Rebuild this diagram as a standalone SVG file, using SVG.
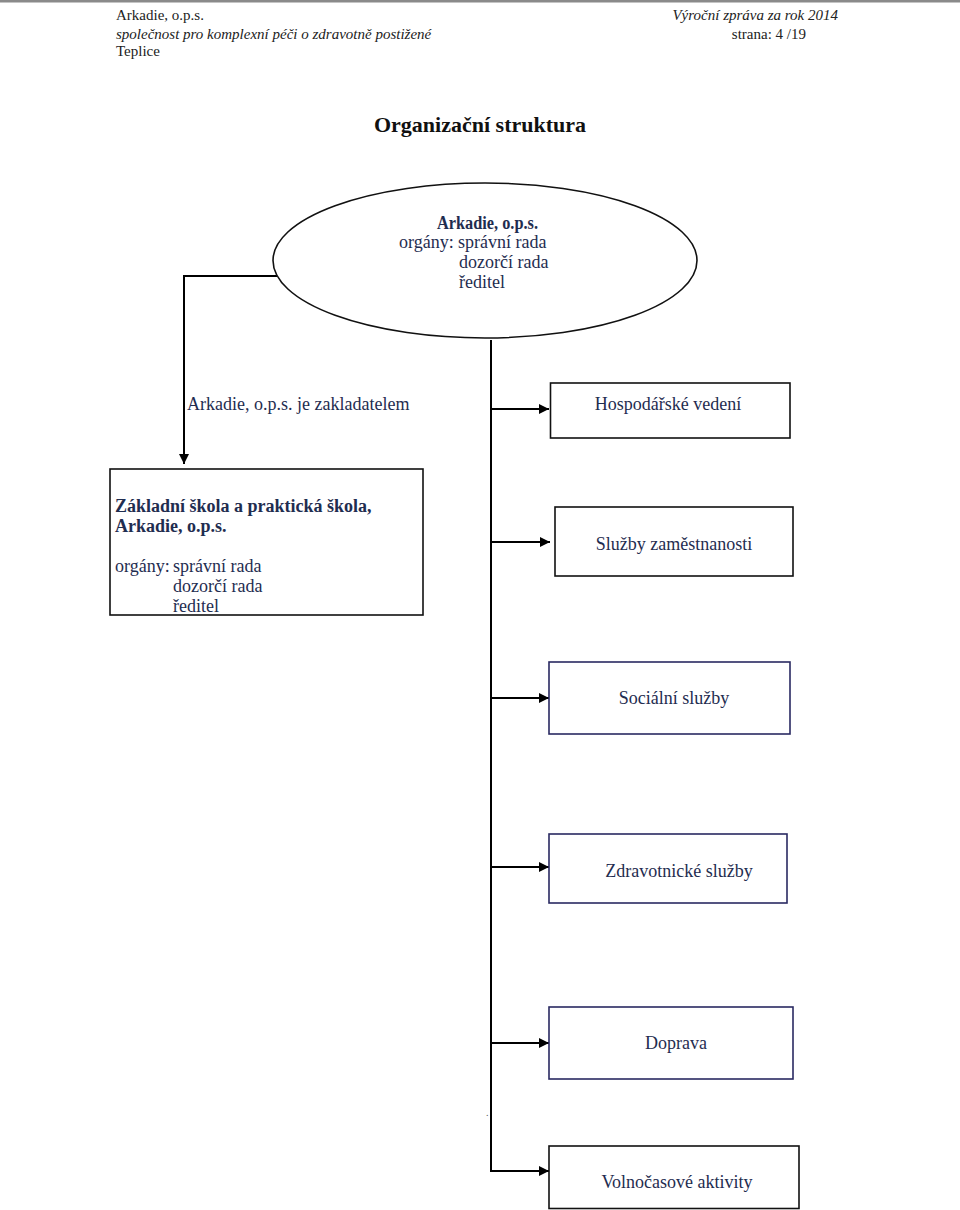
<svg xmlns="http://www.w3.org/2000/svg" width="960" height="1210" viewBox="0 0 960 1210">
<style>
.hdr{font-family:"Liberation Serif","Times New Roman",serif;font-size:15px;fill:#222}
.it{font-style:italic}
.t{font-family:"Liberation Serif","Times New Roman",serif;font-size:18px;fill:#1f2d50}
.b{font-weight:bold}
.box{fill:#fff;stroke:#111;stroke-width:1.6}
.nbox{fill:#fff;stroke:#2a2a62;stroke-width:1.6}
.ln{fill:none;stroke:#000;stroke-width:2}
</style>
<defs>
<marker id="ah" viewBox="0 0 10 10" refX="10" refY="5" markerWidth="11" markerHeight="10" markerUnits="userSpaceOnUse" orient="auto">
<path d="M0,0 L10,5 L0,10 Z" fill="#000"/>
</marker>
</defs>
<rect x="0" y="0" width="960" height="1210" fill="#fff"/>
<rect x="0" y="0" width="960" height="2.5" fill="#8a8a8a"/>
<g id="header">
<text class="hdr" x="116" y="20">Arkadie, o.p.s.</text>
<text class="hdr it" x="116" y="39">společnost pro komplexní péči o zdravotně postižené</text>
<text class="hdr" x="116" y="56">Teplice</text>
<text class="hdr it" x="838" y="20" text-anchor="end">Výroční zpráva za rok  2014</text>
<text class="hdr" x="806" y="39" text-anchor="end">strana: 4 /19</text>
</g>
<text x="480" y="132" text-anchor="middle" font-family="Liberation Serif, Times New Roman, serif" font-size="22" font-weight="bold" fill="#111">Organizační struktura</text>
<g id="connectors">
<polyline class="ln" points="278,276 184,276 184,464" marker-end="url(#ah)"/>
<line class="ln" x1="491" y1="340" x2="491" y2="1171"/>
<line class="ln" x1="490" y1="409" x2="549" y2="409" marker-end="url(#ah)"/>
<line class="ln" x1="490" y1="542" x2="550" y2="542" marker-end="url(#ah)"/>
<line class="ln" x1="490" y1="698" x2="549" y2="698" marker-end="url(#ah)"/>
<line class="ln" x1="490" y1="867" x2="549" y2="867" marker-end="url(#ah)"/>
<line class="ln" x1="490" y1="1043" x2="549" y2="1043" marker-end="url(#ah)"/>
<line class="ln" x1="490" y1="1171" x2="549" y2="1171" marker-end="url(#ah)"/>
<text class="t" x="187" y="410">Arkadie, o.p.s. je zakladatelem</text>
<text x="486" y="1116" font-family="Liberation Serif, serif" font-size="10" fill="#555">.</text>
</g>
<g id="root">
<ellipse cx="485" cy="260.5" rx="212" ry="77.5" fill="#fff" stroke="#111" stroke-width="1.6"/>
<text class="t b" x="437" y="229" font-size="16" textLength="101" lengthAdjust="spacingAndGlyphs">Arkadie, o.p.s.</text>
<text class="t" x="399" y="248">orgány:</text>
<text class="t" x="458" y="248">správní rada</text>
<text class="t" x="459" y="268">dozorčí rada</text>
<text class="t" x="459" y="288">ředitel</text>
</g>
<g id="school">
<rect class="box" x="110" y="469" width="313" height="146"/>
<text class="t b" x="115" y="512">Základní škola a praktická škola,</text>
<text class="t b" x="115" y="532">Arkadie, o.p.s.</text>
<text class="t" x="115" y="572">orgány:</text>
<text class="t" x="173" y="572">správní rada</text>
<text class="t" x="173" y="592">dozorčí rada</text>
<text class="t" x="173" y="612">ředitel</text>
</g>
<g id="hospodarske">
<rect class="box" x="550.5" y="383" width="239.5" height="55"/>
<text class="t" x="668" y="410" text-anchor="middle">Hospodářské vedení</text>
</g>
<g id="zamestnanost">
<rect class="box" x="555" y="507" width="238" height="69"/>
<text class="t" x="674" y="550" text-anchor="middle">Služby zaměstnanosti</text>
</g>
<g id="socialni">
<rect class="nbox" x="549" y="662" width="241" height="72"/>
<text class="t" x="674" y="704" text-anchor="middle">Sociální služby</text>
</g>
<g id="zdravotnicke">
<rect class="nbox" x="549" y="834" width="238" height="69"/>
<text class="t" x="679" y="877" text-anchor="middle">Zdravotnické služby</text>
</g>
<g id="doprava">
<rect class="nbox" x="549" y="1007" width="244" height="72"/>
<text class="t" x="676" y="1049" text-anchor="middle">Doprava</text>
</g>
<g id="volnocasove">
<rect class="box" x="549" y="1146" width="250" height="62.5"/>
<text class="t" x="677" y="1188" text-anchor="middle">Volnočasové aktivity</text>
</g>
</svg>
